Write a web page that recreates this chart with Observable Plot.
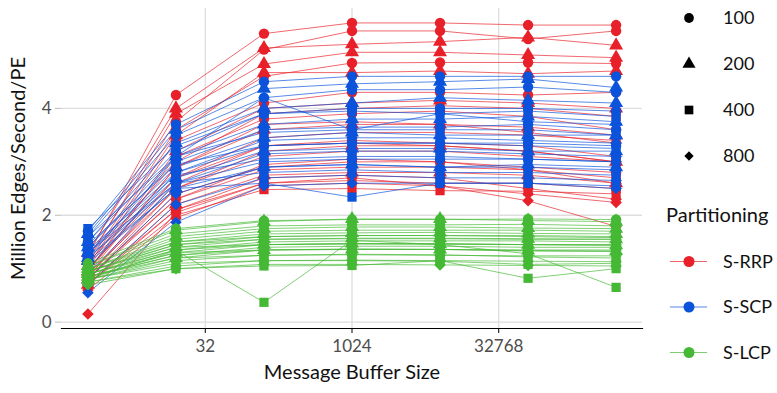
<!DOCTYPE html>
<html>
<head>
<meta charset="utf-8">
<script src="https://cdn.jsdelivr.net/npm/d3@7"></script>
<script src="https://cdn.jsdelivr.net/npm/@observablehq/plot@0.6"></script>
<style>
  html, body { margin: 0; padding: 0; background: #fff; }
  #chart { width: 777px; height: 393px; }
</style>
</head>
<body>
<div id="chart"></div>
<script>
// Message buffer sizes (x)
const bufferSizes = [2, 16, 128, 1024, 8192, 65536, 524288];
const xTicks = [32, 1024, 32768];
const yTicks = [0, 2, 4];
const partitions = ["S-RRP", "S-SCP", "S-LCP"];
const partitionColors = ["#E8202A", "#0B53DB", "#45B935"];
const peCounts = [100, 200, 400, 800];
const peSymbols = ["circle", "triangle", "square", "diamond2"];

// S-RRP series (million edges/second/PE), one row per graph
const rrp100 = [
  [1.25, 4.25, 5.40, 5.60, 5.60, 5.56, 5.56],
  [1.20, 3.75, 5.10, 5.45, 5.45, 5.30, 5.45],
  [1.10, 3.60, 4.60, 4.85, 4.86, 4.86, 4.84],
  [1.00, 3.40, 4.10, 4.30, 4.30, 4.25, 4.30],
  [0.95, 3.10, 3.80, 3.90, 3.95, 3.85, 3.60],
  [0.85, 2.70, 3.30, 3.40, 3.35, 3.30, 3.10],
  [0.80, 2.40, 2.90, 3.00, 3.00, 2.90, 2.80]
];
const rrp200 = [
  [1.30, 4.00, 5.13, 5.20, 5.25, 5.33, 5.18],
  [1.15, 3.90, 4.83, 5.05, 5.05, 5.00, 4.95],
  [1.05, 3.50, 4.67, 4.67, 4.70, 4.65, 4.70],
  [0.95, 3.20, 4.00, 4.10, 4.15, 4.10, 4.00],
  [0.90, 2.90, 3.60, 3.70, 3.70, 3.65, 3.50],
  [0.80, 2.50, 3.20, 3.30, 3.30, 3.20, 3.00],
  [0.70, 2.20, 2.75, 2.80, 2.80, 2.75, 2.60]
];
const rrp400 = [
  [1.10, 3.00, 3.90, 4.00, 4.05, 4.00, 3.85],
  [1.00, 2.70, 3.45, 3.55, 3.55, 3.50, 3.40],
  [0.90, 2.50, 3.10, 3.20, 3.20, 3.10, 3.00],
  [0.85, 2.30, 2.85, 2.90, 2.90, 2.85, 2.70],
  [0.75, 2.10, 2.60, 2.65, 2.60, 2.60, 2.50],
  [0.70, 2.00, 2.48, 2.50, 2.46, 2.45, 2.40]
];
const rrp800 = [
  [0.95, 2.90, 3.70, 3.75, 3.70, 3.55, 3.35],
  [0.85, 2.60, 3.30, 3.35, 3.30, 3.20, 3.00],
  [0.80, 2.30, 2.95, 3.05, 3.00, 2.85, 2.60],
  [0.70, 2.10, 2.70, 2.75, 2.70, 2.50, 2.30],
  [0.60, 1.95, 2.55, 2.60, 2.55, 2.40, 2.24],
  [0.15, 2.05, 2.60, 2.70, 2.55, 2.27, 1.79]
];

// S-SCP series
const scp100 = [
  [1.70, 3.70, 4.50, 4.60, 4.60, 4.60, 4.60],
  [1.60, 3.50, 4.20, 4.35, 4.35, 4.40, 4.30],
  [1.50, 3.20, 3.90, 4.00, 4.00, 4.00, 3.95],
  [1.40, 3.00, 3.60, 3.65, 3.65, 3.70, 3.60],
  [1.35, 2.80, 3.30, 3.35, 3.35, 3.35, 3.30],
  [1.30, 2.60, 3.00, 3.05, 3.05, 3.05, 3.00]
];
const scp200 = [
  [1.65, 3.60, 4.37, 4.46, 4.50, 4.55, 4.39],
  [1.50, 3.35, 4.00, 4.10, 4.20, 4.15, 4.10],
  [1.40, 3.10, 3.70, 3.80, 3.80, 3.85, 3.75],
  [1.30, 2.90, 3.45, 3.55, 3.50, 3.50, 3.50],
  [1.20, 2.70, 3.20, 3.25, 3.25, 3.20, 3.20],
  [1.15, 2.50, 2.90, 2.95, 2.90, 2.95, 2.90]
];
const scp400 = [
  [1.75, 3.30, 3.90, 3.95, 3.90, 3.95, 3.85],
  [1.60, 3.10, 3.55, 3.60, 3.60, 3.60, 3.50],
  [1.45, 2.95, 3.30, 3.35, 3.35, 3.30, 3.25],
  [1.30, 2.75, 3.05, 3.10, 3.10, 3.05, 3.00],
  [1.20, 2.60, 2.80, 2.85, 2.80, 2.80, 2.75],
  [1.10, 2.50, 2.60, 2.34, 2.60, 2.60, 2.55]
];
const scp800 = [
  [1.20, 3.10, 4.20, 3.60, 3.90, 3.75, 3.70],
  [1.00, 2.80, 3.40, 3.45, 3.45, 3.40, 3.35],
  [0.90, 2.60, 3.15, 3.20, 3.20, 3.15, 3.10],
  [0.80, 2.40, 2.90, 2.95, 2.90, 2.90, 2.85],
  [0.70, 2.20, 2.70, 2.75, 2.70, 2.70, 2.65],
  [0.55, 1.87, 2.55, 2.60, 2.60, 2.60, 2.50]
];

// S-LCP series
const lcp100 = [
  [1.10, 1.75, 1.90, 1.92, 1.92, 1.93, 1.92],
  [1.05, 1.65, 1.80, 1.82, 1.82, 1.83, 1.80],
  [1.00, 1.55, 1.70, 1.72, 1.72, 1.72, 1.70],
  [0.95, 1.45, 1.60, 1.62, 1.62, 1.62, 1.60],
  [0.90, 1.35, 1.50, 1.52, 1.52, 1.52, 1.50],
  [0.85, 1.25, 1.40, 1.42, 1.42, 1.40, 1.40]
];
const lcp200 = [
  [1.05, 1.72, 1.88, 1.93, 1.93, 1.90, 1.88],
  [1.00, 1.60, 1.75, 1.78, 1.78, 1.76, 1.75],
  [0.95, 1.50, 1.65, 1.67, 1.68, 1.66, 1.65],
  [0.90, 1.40, 1.55, 1.57, 1.57, 1.56, 1.55],
  [0.85, 1.30, 1.45, 1.47, 1.46, 1.45, 1.44],
  [0.80, 1.20, 1.35, 1.36, 1.36, 1.34, 1.33]
];
const lcp400 = [
  [1.00, 1.50, 1.60, 1.62, 1.62, 1.60, 1.58],
  [0.95, 1.40, 1.45, 1.47, 1.47, 1.45, 1.44],
  [0.90, 1.30, 1.35, 1.37, 1.36, 1.33, 1.32],
  [0.85, 1.20, 1.25, 1.27, 1.26, 1.22, 1.20],
  [0.80, 1.10, 1.15, 1.15, 1.14, 1.08, 1.10],
  [0.75, 1.00, 1.05, 1.06, 1.15, 0.82, 1.00],
  [0.80, 1.34, 0.37, 1.53, 1.45, 1.28, 0.65]
];
const lcp800 = [
  [0.95, 1.45, 1.55, 1.56, 1.56, 1.55, 1.55],
  [0.90, 1.35, 1.45, 1.46, 1.46, 1.45, 1.45],
  [0.85, 1.25, 1.35, 1.36, 1.36, 1.35, 1.35],
  [0.80, 1.15, 1.25, 1.26, 1.25, 1.24, 1.24],
  [0.75, 1.05, 1.15, 1.16, 1.15, 1.14, 1.13],
  [0.70, 1.00, 1.08, 1.08, 1.07, 1.06, 1.05]
];

const seriesByPartition = {
  "S-RRP": [rrp100, rrp200, rrp400, rrp800],
  "S-SCP": [scp100, scp200, scp400, scp800],
  "S-LCP": [lcp100, lcp200, lcp400, lcp800]
};

// Build long table
const rows = [];
for (const part of partitions) {
  seriesByPartition[part].forEach((group, gi) => {
    group.forEach((vals, si) => {
      const id = `${part}-${peCounts[gi]}-${si}`;
      vals.forEach((v, xi) => {
        rows.push({part, pe: peCounts[gi], id, size: bufferSizes[xi], value: v});
      });
    });
  });
}

const FONT = "Lato, 'Open Sans', sans-serif";

const chart = Plot.plot({
  width: 777,
  height: 393,
  marginLeft: 61,
  marginRight: 135,
  marginTop: 8,
  marginBottom: 65,
  style: {fontFamily: FONT, background: "#fff", overflow: "visible"},
  x: {type: "log", domain: [Math.pow(2, 0.1), Math.pow(2, 19.9)]},
  y: {domain: [-0.12, 5.87]},
  color: {domain: partitions, range: partitionColors},
  symbol: {domain: peCounts, range: peSymbols},
  marks: [
    Plot.gridX(xTicks, {stroke: "#dedede", strokeOpacity: 1, strokeWidth: 1.3}),
    Plot.gridY(yTicks, {stroke: "#dedede", strokeOpacity: 1, strokeWidth: 1.3}),
    Plot.axisY(yTicks, {tickSize: 6, tickPadding: 4, stroke: "#bbbbbb", fill: "#4d4d4d", fontSize: 17, tickFormat: d => String(d), label: null}),
    Plot.axisX(xTicks, {tickSize: 5, stroke: "#000", tickFormat: () => "", label: null}),
    Plot.text(xTicks, {x: d => d, text: d => String(d), frameAnchor: "bottom", dy: 23, fill: "#4d4d4d", fontSize: 17, fontFamily: FONT}),
    Plot.frame({anchor: "bottom", stroke: "#000", strokeWidth: 1.2}),
    Plot.line(rows, {x: "size", y: "value", z: "id", stroke: "part", strokeWidth: 1, strokeOpacity: 0.68}),
    Plot.dot(rows, {x: "size", y: "value", fill: "part", symbol: "pe", r: 5.2, stroke: "none"}),
    Plot.text(["Message Buffer Size"], {frameAnchor: "bottom", dy: 50, fontSize: 20, fill: "#111", fontFamily: FONT}),
    Plot.text(["Million Edges/Second/PE"], {frameAnchor: "left", textAnchor: "middle", dx: -43, rotate: -90, fontSize: 20, fill: "#111", fontFamily: FONT})
  ]
});

document.getElementById("chart").appendChild(chart);

// Legends (drawn into the same SVG)
const svg = d3.select(chart);
const lg = svg.append("g").attr("font-family", FONT).attr("text-anchor", "start");
const symMap = {circle: d3.symbolCircle, triangle: d3.symbolTriangle, square: d3.symbolSquare, diamond2: d3.symbolDiamond2};
const shapeY0 = 18, shapeStep = 46;
peCounts.forEach((pe, i) => {
  const y = shapeY0 + i * shapeStep;
  lg.append("path")
    .attr("d", d3.symbol(symMap[peSymbols[i]], i === 3 ? 55 : 75)())
    .attr("transform", `translate(689,${y})`)
    .attr("fill", "#000");
  lg.append("text").attr("x", 723).attr("y", y).attr("dy", "0.35em")
    .attr("font-size", 18).attr("fill", "#111").text(pe);
});
lg.append("text").attr("x", 666).attr("y", 215).attr("dy", "0.35em")
  .attr("font-size", 20).attr("fill", "#111").text("Partitioning");
partitions.forEach((p, i) => {
  const y = 261.5 + i * 45.5;
  lg.append("line").attr("x1", 670).attr("x2", 707).attr("y1", y).attr("y2", y)
    .attr("stroke", partitionColors[i]).attr("stroke-opacity", 0.7).attr("stroke-width", 1.2);
  lg.append("circle").attr("cx", 689).attr("cy", y).attr("r", 5.5).attr("fill", partitionColors[i]);
  lg.append("text").attr("x", 723).attr("y", y).attr("dy", "0.35em")
    .attr("font-size", 18).attr("fill", "#111").text(p);
});
</script>
</body>
</html>
